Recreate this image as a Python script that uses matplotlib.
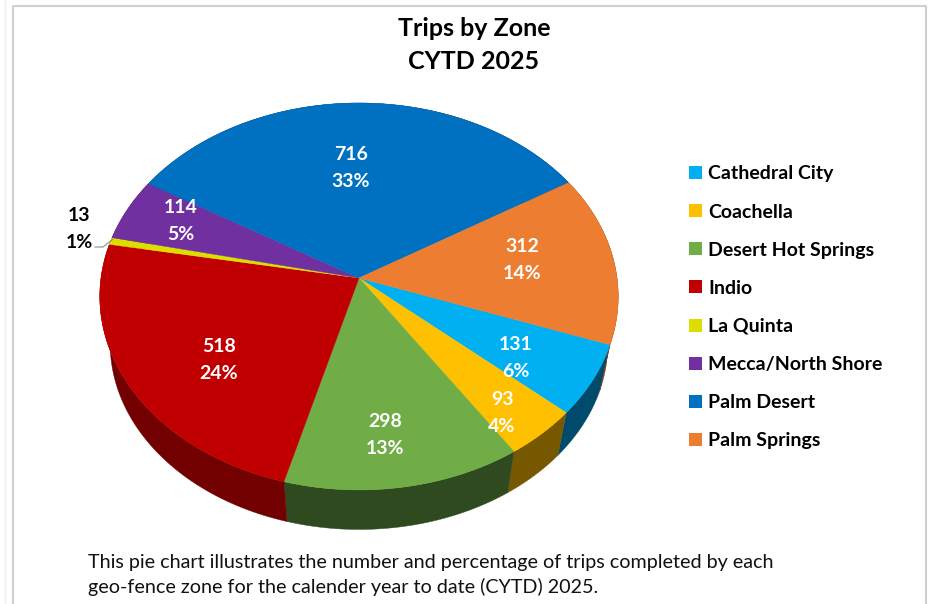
import numpy as np
import matplotlib.pyplot as plt
from matplotlib.patches import Patch

zones = ['Cathedral City', 'Coachella', 'Desert Hot Springs', 'Indio', 'La Quinta',
         'Mecca/North Shore', 'Palm Desert', 'Palm Springs']
trips = [131, 93, 298, 518, 13, 114, 716, 312]
percents = ['6%', '4%', '13%', '24%', '1%', '5%', '33%', '14%']

colors = ['#00B0F0', '#FFC000', '#70AD47', '#C00000', '#DDDD00', '#7030A0', '#0070C0', '#ED7D31']
side_colors = ['#004B6B', '#755800', '#2F4A1E', '#720000', '#666600', '#33164A', '#003358', '#7A3D14']
# pixel position of each slice label (centre of the two lines)
label_xy = [(516, 358), (502, 413), (385, 435), (219, 360), (79, 229), (181, 221), (351, 168), (522, 260)]
label_colors = ['white', 'white', 'white', 'white', 'black', 'white', 'white', 'white']

plt.rcParams['font.family'] = ['Lato', 'DejaVu Sans']

# projection of the flat pie to the picture
cx, cy = 359, 278
rx, sy, k = 258, 191.7, 0.0955
start_angle = -19.7
depth, bottom_scale = 48, 0.96


def project(theta, r=1.0):
    u = r * np.cos(np.radians(theta))
    v = r * np.sin(np.radians(theta))
    w = 1 + k * v
    return cx + rx * u / w, cy - sy * v / w


fig = plt.figure(figsize=(9.33, 6.04), dpi=100)
ax = fig.add_axes([0, 0, 1, 1])
ax.set_xlim(0, 933)
ax.set_ylim(604, 0)
ax.axis('off')

# frame of the chart
ax.plot([13, 13, 926, 926], [604, 6, 6, 604], color='#D0D0D0', lw=1.5)
ax.plot([5, 5], [0, 604], color='#EFEFEF', lw=1)

edges = start_angle - np.cumsum([0] + trips) / sum(trips) * 360

# side wall first, the top covers the back of it
for i in range(len(trips)):
    th = np.linspace(edges[i], edges[i + 1], 80)
    x, y = project(th)
    xb = cx + (x - cx) * bottom_scale
    yb = cy + (y - cy) * bottom_scale + depth
    ax.fill(np.r_[x, xb[::-1]], np.r_[y, yb[::-1]], color=side_colors[i], lw=0.3, zorder=2)

for i in range(len(trips)):
    th = np.linspace(edges[i], edges[i + 1], 80)
    x, y = project(th)
    ax.fill(np.r_[cx, x], np.r_[cy, y], color=colors[i], lw=0.3, zorder=3)

for i in range(len(trips)):
    ax.text(label_xy[i][0], label_xy[i][1], '%d\n%s' % (trips[i], percents[i]), color=label_colors[i],
            fontsize=14, fontweight='bold', ha='center', va='center', linespacing=1.65, zorder=5)

# leader line for La Quinta
ax.plot([95, 103, 113], [247, 247, 239], color='#8C8C8C', lw=0.8, zorder=4)

ax.text(474, 45, 'Trips by Zone\nCYTD 2025', fontsize=18, fontweight='bold', ha='center', va='center',
        linespacing=1.48)

handles = [Patch(facecolor=c, edgecolor='none') for c in colors]
ax.legend(handles, zones, loc='upper left', bbox_to_anchor=(689, 165.5), bbox_transform=ax.transData,
          frameon=False, prop={'size': 14, 'weight': 'bold'}, handlelength=0.65, handleheight=0.65,
          handletextpad=0.35, labelspacing=1.085, borderpad=0, borderaxespad=0)

ax.text(88, 575, 'This pie chart illustrates the number and percentage of trips completed by each\n'
        'geo-fence zone for the calender year to date (CYTD) 2025.', fontsize=14.25, color='#111111',
        ha='left', va='center', linespacing=1.5)

fig.savefig('out.png', dpi=100)
